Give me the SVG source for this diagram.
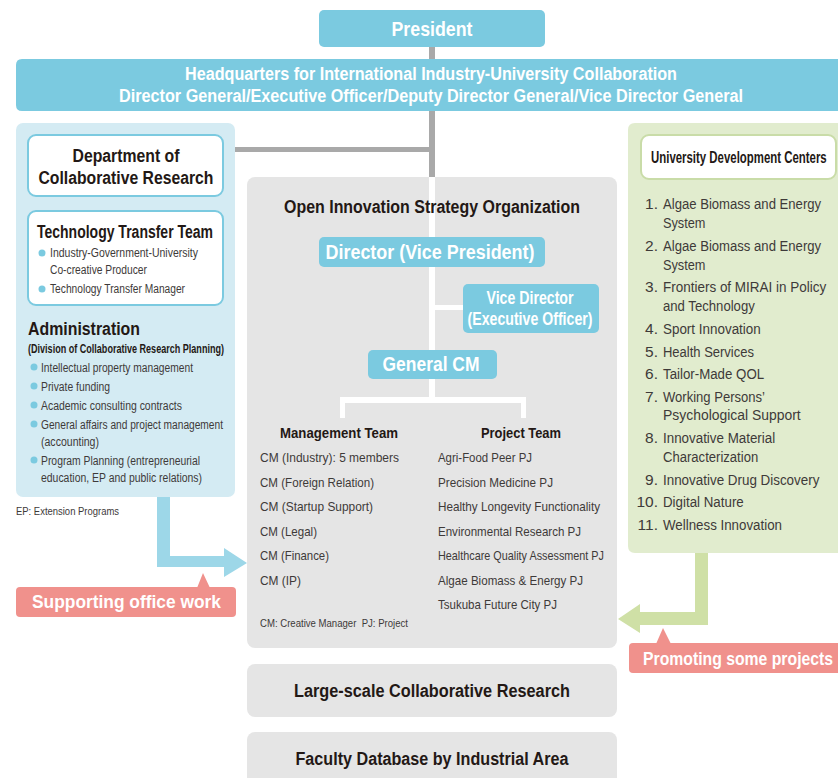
<svg xmlns="http://www.w3.org/2000/svg" width="838" height="778" viewBox="0 0 838 778">
  <style>
    text { font-family: "Liberation Sans", Arial, sans-serif; }
    .w { fill: #ffffff; font-weight: bold; }
    .t { fill: #231815; font-weight: bold; }
    .r { fill: #3e3a39; }
    .blue { fill: #7bcae0; }
    .dot { fill: #7bcae0; }
    .pink { fill: #f0918c; }
    .gbox { fill: #e5e5e5; }
  </style>

  <!-- connectors -->
  <g id="connectors">
    <!-- gray trunk from president through HQ into the organization -->
    <rect x="429" y="47" width="6" height="14" fill="#a9a9a9"/>
    <rect x="429" y="110" width="6" height="68" fill="#a9a9a9"/>
    <rect x="235" y="147" width="197" height="5" fill="#a9a9a9"/>
  </g>

  <!-- President -->
  <g id="president">
    <rect x="319" y="10" width="226" height="37" rx="5" class="blue"/>
    <text x="432" y="36" text-anchor="middle" font-size="21" class="w" textLength="81" lengthAdjust="spacingAndGlyphs">President</text>
  </g>

  <!-- Headquarters bar, running off the right edge -->
  <g id="headquarters">
    <path d="M22,59 H838 V111 H22 Q16,111 16,105 V65 Q16,59 22,59 Z" class="blue"/>
    <text x="431" y="80" text-anchor="middle" font-size="18" class="w" textLength="492" lengthAdjust="spacingAndGlyphs">Headquarters for International Industry-University Collaboration</text>
    <text x="431" y="102" text-anchor="middle" font-size="18" class="w" textLength="624" lengthAdjust="spacingAndGlyphs">Director General/Executive Officer/Deputy Director General/Vice Director General</text>
  </g>

  <!-- Department of Collaborative Research panel -->
  <g id="collab-dept">
    <rect x="16" y="123" width="219" height="374" rx="7" fill="#d4ebf3"/>
    <rect x="28" y="135" width="195" height="61" rx="8" fill="#ffffff" stroke="#7bcae0" stroke-width="2"/>
    <text x="126" y="162" text-anchor="middle" font-size="18" class="t" textLength="107" lengthAdjust="spacingAndGlyphs">Department of</text>
    <text x="126" y="184" text-anchor="middle" font-size="18" class="t" textLength="175" lengthAdjust="spacingAndGlyphs">Collaborative Research</text>

    <rect x="28" y="211" width="195" height="94" rx="8" fill="#ffffff" stroke="#7bcae0" stroke-width="2"/>
    <text x="37" y="238" font-size="18" class="t" textLength="176" lengthAdjust="spacingAndGlyphs">Technology Transfer Team</text>
    <circle cx="42" cy="253" r="3.5" class="dot"/>
    <text x="50" y="257" font-size="12.5" class="r" textLength="148" lengthAdjust="spacingAndGlyphs">Industry-Government-University</text>
    <text x="50" y="274" font-size="12.5" class="r" textLength="97" lengthAdjust="spacingAndGlyphs">Co-creative Producer</text>
    <circle cx="42" cy="289" r="3.5" class="dot"/>
    <text x="50" y="293" font-size="12.5" class="r" textLength="135" lengthAdjust="spacingAndGlyphs">Technology Transfer Manager</text>

    <text x="28" y="335" font-size="18" class="t" textLength="112" lengthAdjust="spacingAndGlyphs">Administration</text>
    <text x="28" y="353" font-size="12.5" class="t" textLength="196" lengthAdjust="spacingAndGlyphs">(Division of Collaborative Research Planning)</text>

    <circle cx="34" cy="367" r="3.5" class="dot"/>
    <text x="41" y="372" font-size="12.5" class="r" textLength="152" lengthAdjust="spacingAndGlyphs">Intellectual property management</text>
    <circle cx="34" cy="386" r="3.5" class="dot"/>
    <text x="41" y="391" font-size="12.5" class="r" textLength="69" lengthAdjust="spacingAndGlyphs">Private funding</text>
    <circle cx="34" cy="405" r="3.5" class="dot"/>
    <text x="41" y="410" font-size="12.5" class="r" textLength="141" lengthAdjust="spacingAndGlyphs">Academic consulting contracts</text>
    <circle cx="34" cy="424" r="3.5" class="dot"/>
    <text x="41" y="429" font-size="12.5" class="r" textLength="182" lengthAdjust="spacingAndGlyphs">General affairs and project management</text>
    <text x="41" y="446" font-size="12.5" class="r" textLength="58" lengthAdjust="spacingAndGlyphs">(accounting)</text>
    <circle cx="34" cy="460" r="3.5" class="dot"/>
    <text x="41" y="465" font-size="12.5" class="r" textLength="159" lengthAdjust="spacingAndGlyphs">Program Planning (entrepreneurial</text>
    <text x="41" y="482" font-size="12.5" class="r" textLength="161" lengthAdjust="spacingAndGlyphs">education, EP and public relations)</text>
  </g>

  <text x="16" y="515" font-size="11.5" class="r" textLength="103" lengthAdjust="spacingAndGlyphs">EP: Extension Programs</text>

  <!-- Supporting arrow -->
  <g id="support-arrow">
    <path d="M157,497 H170 V556 H224 V548 L247,563 L224,577 V567 H157 Z" fill="#9dd7e8"/>
  </g>

  <g id="support-label">
    <rect x="16" y="587" width="220" height="30" rx="4" class="pink"/>
    <path d="M197,588 L203,573 L210,588 Z" class="pink"/>
    <text x="32" y="608" font-size="19" class="w" textLength="189" lengthAdjust="spacingAndGlyphs">Supporting office work</text>
  </g>

  <!-- Open Innovation Strategy Organization -->
  <g id="oiso">
    <rect x="247" y="177" width="370" height="471" rx="8" class="gbox"/>
    <!-- internal white connectors -->
    <rect x="429" y="177" width="6" height="226" fill="#ffffff"/>
    <rect x="432" y="305" width="32" height="5" fill="#ffffff"/>
    <rect x="340" y="397" width="186" height="6" fill="#ffffff"/>
    <rect x="340" y="397" width="5" height="21" fill="#ffffff"/>
    <rect x="521" y="397" width="5" height="21" fill="#ffffff"/>

    <text x="432" y="213" text-anchor="middle" font-size="18" class="t" textLength="296" lengthAdjust="spacingAndGlyphs">Open Innovation Strategy Organization</text>

    <g id="director">
      <rect x="319" y="237" width="226" height="30" rx="5" class="blue"/>
      <text x="430" y="259" text-anchor="middle" font-size="20" class="w" textLength="209" lengthAdjust="spacingAndGlyphs">Director (Vice President)</text>
    </g>
    <g id="vice-director">
      <rect x="463" y="284" width="136" height="49" rx="5" class="blue"/>
      <text x="530" y="304" text-anchor="middle" font-size="18" class="w" textLength="87" lengthAdjust="spacingAndGlyphs">Vice Director</text>
      <text x="530" y="325" text-anchor="middle" font-size="18" class="w" textLength="125" lengthAdjust="spacingAndGlyphs">(Executive Officer)</text>
    </g>
    <g id="general-cm">
      <rect x="368" y="350" width="129" height="29" rx="5" class="blue"/>
      <text x="431" y="371" text-anchor="middle" font-size="20" class="w" textLength="97" lengthAdjust="spacingAndGlyphs">General CM</text>
    </g>

    <g id="management-team">
      <text x="339" y="438" text-anchor="middle" font-size="14.5" class="t" textLength="118" lengthAdjust="spacingAndGlyphs">Management Team</text>
      <text x="260" y="462" font-size="13" class="r" textLength="139" lengthAdjust="spacingAndGlyphs">CM (Industry): 5 members</text>
      <text x="260" y="487" font-size="13" class="r" textLength="114" lengthAdjust="spacingAndGlyphs">CM (Foreign Relation)</text>
      <text x="260" y="511" font-size="13" class="r" textLength="113" lengthAdjust="spacingAndGlyphs">CM (Startup Support)</text>
      <text x="260" y="536" font-size="13" class="r" textLength="57" lengthAdjust="spacingAndGlyphs">CM (Legal)</text>
      <text x="260" y="560" font-size="13" class="r" textLength="69" lengthAdjust="spacingAndGlyphs">CM (Finance)</text>
      <text x="260" y="585" font-size="13" class="r" textLength="41" lengthAdjust="spacingAndGlyphs">CM (IP)</text>
    </g>
    <g id="project-team">
      <text x="521" y="438" text-anchor="middle" font-size="14.5" class="t" textLength="80" lengthAdjust="spacingAndGlyphs">Project Team</text>
      <text x="438" y="462" font-size="13" class="r" textLength="94" lengthAdjust="spacingAndGlyphs">Agri-Food Peer PJ</text>
      <text x="438" y="487" font-size="13" class="r" textLength="115" lengthAdjust="spacingAndGlyphs">Precision Medicine PJ</text>
      <text x="438" y="511" font-size="13" class="r" textLength="162" lengthAdjust="spacingAndGlyphs">Healthy Longevity Functionality</text>
      <text x="438" y="536" font-size="13" class="r" textLength="143" lengthAdjust="spacingAndGlyphs">Environmental Research PJ</text>
      <text x="438" y="560" font-size="13" class="r" textLength="166" lengthAdjust="spacingAndGlyphs">Healthcare Quality Assessment PJ</text>
      <text x="438" y="585" font-size="13" class="r" textLength="145" lengthAdjust="spacingAndGlyphs">Algae Biomass &amp; Energy PJ</text>
      <text x="438" y="609" font-size="13" class="r" textLength="119" lengthAdjust="spacingAndGlyphs">Tsukuba Future City PJ</text>
    </g>
    <text x="260" y="627" font-size="11" class="r" textLength="148" lengthAdjust="spacingAndGlyphs" xml:space="preserve">CM: Creative Manager  PJ: Project</text>
  </g>

  <!-- Large-scale Collaborative Research -->
  <g id="large-scale">
    <rect x="247" y="664" width="370" height="53" rx="8" class="gbox"/>
    <text x="432" y="697" text-anchor="middle" font-size="18" class="t" textLength="276" lengthAdjust="spacingAndGlyphs">Large-scale Collaborative Research</text>
  </g>

  <!-- Faculty Database -->
  <g id="faculty-db">
    <rect x="247" y="732" width="370" height="60" rx="8" class="gbox"/>
    <text x="432" y="765" text-anchor="middle" font-size="18" class="t" textLength="273" lengthAdjust="spacingAndGlyphs">Faculty Database by Industrial Area</text>
  </g>

  <!-- University Development Centers panel, running off the right edge -->
  <g id="udc">
    <path d="M635,123 H838 V553 H635 Q628,553 628,546 V130 Q628,123 635,123 Z" fill="#e1ecce"/>
    <rect x="641" y="135" width="195" height="44" rx="8" fill="#ffffff" stroke="#c9dca8" stroke-width="2"/>
    <!-- condensed heading: horizontal squeeze about x=651 -->
    <g transform="matrix(0.7 0 0 1 195.3 0)">
      <text x="651" y="163" font-size="16" class="t" textLength="251" lengthAdjust="spacingAndGlyphs">University Development Centers</text>
    </g>

    <!-- item numbers -->
    <g font-size="15.5" class="r" text-anchor="end">
      <text x="658" y="209">1.</text>
      <text x="658" y="251">2.</text>
      <text x="658" y="292">3.</text>
      <text x="658" y="334">4.</text>
      <text x="658" y="357">5.</text>
      <text x="658" y="379">6.</text>
      <text x="658" y="402">7.</text>
      <text x="658" y="443">8.</text>
      <text x="658" y="485">9.</text>
      <text x="658" y="507">10.</text>
      <text x="658" y="530">11.</text>
    </g>

    <!-- item names: condensed with a horizontal squeeze about x=663 -->
    <g font-size="15.5" class="r" transform="matrix(0.85 0 0 1 99.45 0)">
      <text x="663" y="209" textLength="186" lengthAdjust="spacingAndGlyphs">Algae Biomass and Energy</text>
      <text x="663" y="228" textLength="50" lengthAdjust="spacingAndGlyphs">System</text>
      <text x="663" y="251" textLength="186" lengthAdjust="spacingAndGlyphs">Algae Biomass and Energy</text>
      <text x="663" y="270" textLength="50" lengthAdjust="spacingAndGlyphs">System</text>
      <text x="663" y="292" textLength="192" lengthAdjust="spacingAndGlyphs">Frontiers of MIRAI in Policy</text>
      <text x="663" y="311" textLength="108" lengthAdjust="spacingAndGlyphs">and Technology</text>
      <text x="663" y="334" textLength="115" lengthAdjust="spacingAndGlyphs">Sport Innovation</text>
      <text x="663" y="357" textLength="107" lengthAdjust="spacingAndGlyphs">Health Services</text>
      <text x="663" y="379" textLength="119" lengthAdjust="spacingAndGlyphs">Tailor-Made QOL</text>
      <text x="663" y="402" textLength="120" lengthAdjust="spacingAndGlyphs">Working Persons’</text>
      <text x="663" y="420" textLength="162" lengthAdjust="spacingAndGlyphs">Psychological Support</text>
      <text x="663" y="443" textLength="132" lengthAdjust="spacingAndGlyphs">Innovative Material</text>
      <text x="663" y="462" textLength="112" lengthAdjust="spacingAndGlyphs">Characterization</text>
      <text x="663" y="485" textLength="184" lengthAdjust="spacingAndGlyphs">Innovative Drug Discovery</text>
      <text x="663" y="507" textLength="95" lengthAdjust="spacingAndGlyphs">Digital Nature</text>
      <text x="663" y="530" textLength="140" lengthAdjust="spacingAndGlyphs">Wellness Innovation</text>
    </g>
  </g>

  <!-- Promoting arrow -->
  <g id="promote-arrow">
    <path d="M708,553 H695 V612 H640 V604 L618,619 L640,633 V625 H708 Z" fill="#cfe0a6"/>
  </g>

  <g id="promote-label">
    <path d="M633,643 H838 V673 H633 Q629,673 629,669 V647 Q629,643 633,643 Z" class="pink"/>
    <path d="M656,644 L663,628 L671,644 Z" class="pink"/>
    <!-- condensed label: horizontal squeeze about x=643 -->
    <g transform="matrix(0.83 0 0 1 109.31 0)">
      <text x="643" y="665" font-size="19" class="w" textLength="229" lengthAdjust="spacingAndGlyphs">Promoting some projects</text>
    </g>
  </g>
</svg>
